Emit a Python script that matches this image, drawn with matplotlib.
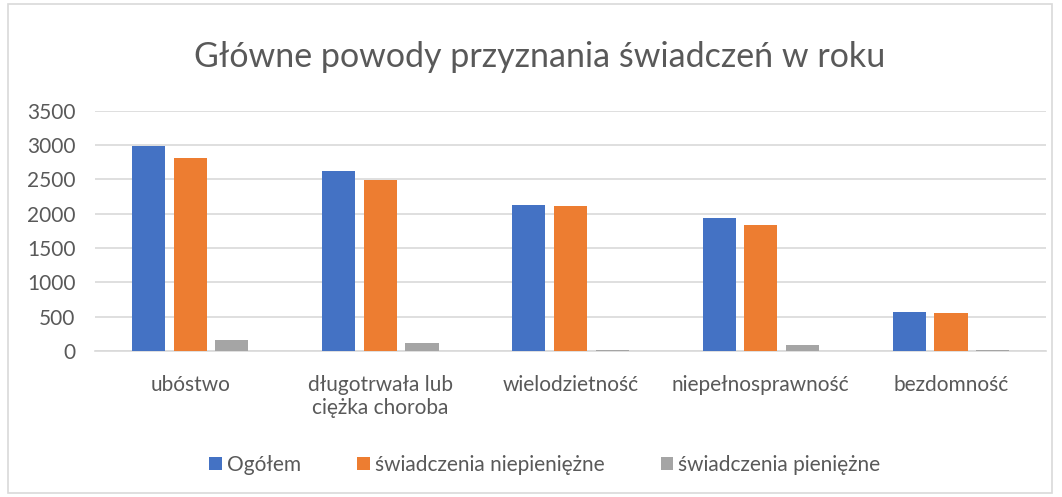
import numpy as np
import matplotlib.pyplot as plt
from matplotlib.patches import Rectangle

# data
categories = ["ubóstwo", "długotrwała lub\nciężka choroba", "wielodzietność",
              "niepełnosprawność", "bezdomność"]
ogolem = [2980, 2620, 2125, 1940, 575]
niepieniezne = [2810, 2490, 2110, 1830, 555]
pieniezne = [155, 120, 10, 92, 12]
series_names = ["Ogółem", "świadczenia niepieniężne", "świadczenia pieniężne"]
colors = ["#4472C4", "#ED7D31", "#A5A5A5"]

plt.rcParams["font.family"] = ["Lato", "DejaVu Sans"]

fig = plt.figure(figsize=(10.62, 4.97), dpi=100)
ax = fig.add_axes([0.0895, 0.2938, 0.8955, 0.4835])

x = np.arange(len(categories))
w = 0.174
step = 0.219
for i, (vals, name, c) in enumerate(zip([ogolem, niepieniezne, pieniezne], series_names, colors)):
    ax.bar(x + (i - 1) * step, vals, width=w, color=c, label=name, zorder=3)

ax.set_xlim(-0.5, len(categories) - 0.5)
ax.set_ylim(0, 3500)
ax.set_yticks(np.arange(0, 3501, 500))
ax.set_xticks(x)
ax.set_xticklabels(categories, linespacing=1.2)
ax.tick_params(axis="both", length=0, labelsize=15, colors="#595959")
ax.tick_params(axis="x", pad=17)
ax.tick_params(axis="y", pad=14)
ax.grid(axis="y", color="#d9d9d9", lw=1.2, zorder=0)
for s in ["top", "right", "left"]:
    ax.spines[s].set_visible(False)
ax.spines["bottom"].set_color("#d9d9d9")
ax.spines["bottom"].set_linewidth(1.2)

fig.text(0.508, 0.885, "Główne powody przyznania świadczeń w roku",
         ha="center", va="center", fontsize=24.5, color="#595959")

fig.legend(loc="center", bbox_to_anchor=(0.513, 0.065), ncol=3, frameon=False,
           fontsize=15, handlelength=0.6, handleheight=0.6, handletextpad=0.25,
           columnspacing=2.7, labelcolor="#595959")

# outer chart border
fig.patches.append(Rectangle((8 / 1062, 4 / 497), 1044 / 1062, 489 / 497,
                             transform=fig.transFigure, fill=False,
                             edgecolor="#d9d9d9", lw=1.2))

fig.savefig("out.png", dpi=100)
